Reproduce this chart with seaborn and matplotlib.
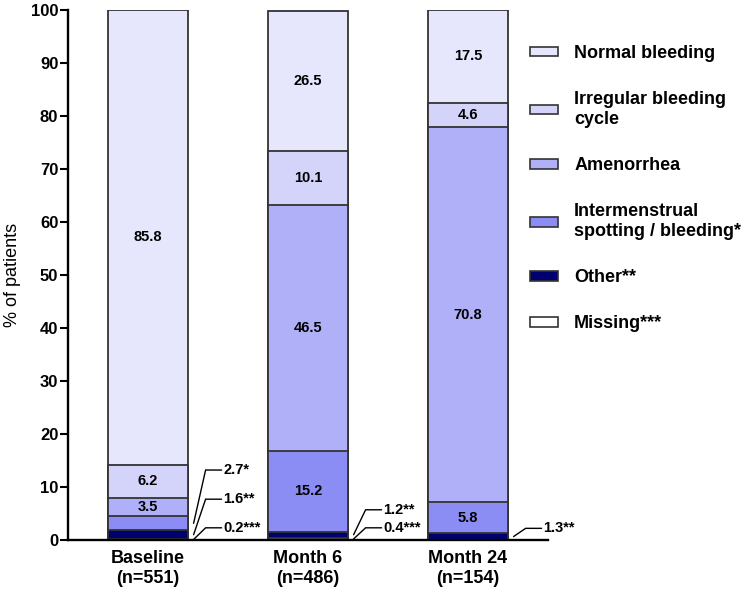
import numpy as np
import pandas as pd
import matplotlib
matplotlib.use("Agg")
import matplotlib.pyplot as plt
from matplotlib.patches import Patch
import seaborn as sns

# ---- data ----
timepoints = ["Baseline\n(n=551)", "Month 6\n(n=486)", "Month 24\n(n=154)"]
categories = ["Missing***", "Other**", "Intermenstrual\nspotting / bleeding*",
              "Amenorrhea", "Irregular bleeding\ncycle", "Normal bleeding"]
missing = [0.2, 0.4, 0.0]
other = [1.6, 1.2, 1.3]
intermenstrual = [2.7, 15.2, 5.8]
amenorrhea = [3.5, 46.5, 70.8]
irregular = [6.2, 10.1, 4.6]
normal = [85.8, 26.5, 17.5]
colors = ["#FFFFFF", "#00006E", "#8C8CF5", "#B0B0F8", "#D4D4FA", "#E6E6FC"]

# segments that get an inside label / outside leader label
inside_labels = {"Intermenstrual\nspotting / bleeding*": [False, True, True],
                 "Amenorrhea": [True, True, True],
                 "Irregular bleeding\ncycle": [True, True, True],
                 "Normal bleeding": [True, True, True]}
# (bar index, segment index, text, label y)
outside_labels = [(0, 2, "2.7*", 13.2), (0, 1, "1.6**", 7.7), (0, 0, "0.2***", 2.3),
                  (1, 1, "1.2**", 5.7), (1, 0, "0.4***", 2.3),
                  (2, 1, "1.3**", 2.2)]

series = [missing, other, intermenstrual, amenorrhea, irregular, normal]
vals = np.array(series)
cum = np.cumsum(vals, axis=0)

sns.set_theme(style="ticks")
plt.rcParams["font.family"] = ["Liberation Sans", "DejaVu Sans"]
plt.rcParams["text.color"] = "black"
plt.rcParams["axes.labelcolor"] = "black"
plt.rcParams["xtick.color"] = "black"
plt.rcParams["ytick.color"] = "black"

fig = plt.figure(figsize=(7.52, 5.98), dpi=100)
ax = fig.add_axes([68 / 752, 58 / 598, 480 / 752, 530 / 598])

# draw cumulative bars from top to bottom so they overlay as a stack
for k in range(len(categories) - 1, -1, -1):
    df = pd.DataFrame({"time": timepoints, "value": cum[k]})
    sns.barplot(data=df, x="time", y="value", order=timepoints, color=colors[k],
                saturation=1, width=0.5, edgecolor="#333333", linewidth=1.3,
                errorbar=None, ax=ax)

# inside labels
for k, cat in enumerate(categories):
    if cat in inside_labels:
        for i in range(len(timepoints)):
            if inside_labels[cat][i]:
                bottom = cum[k][i] - vals[k][i]
                ax.text(i, bottom + vals[k][i] / 2, f"{vals[k][i]:.1f}", ha="center",
                        va="center", fontsize=10.5, fontweight="bold", color="black")

# outside leader labels
for i, k, txt, ly in outside_labels:
    edge = i + 0.25
    sy = cum[k][i] - vals[k][i] / 2
    ax.plot([edge + 0.035, edge + 0.11, edge + 0.21], [sy, ly, ly], color="black",
            lw=1.0, clip_on=False, solid_joinstyle="miter")
    ax.text(edge + 0.22, ly, txt, ha="left", va="center", fontsize=10.5,
            fontweight="bold", color="black")

ax.set_xlim(-0.5, 2.5)
ax.set_ylim(0, 100)
ax.set_yticks(np.arange(0, 101, 10))
ax.set_xlabel("")
ax.set_ylabel("")
fig.text(13 / 752, 1 - 275 / 598, "% of patients", rotation=90, ha="center",
         va="center", fontsize=13, color="black")
sns.despine(ax=ax)
for s in ["left", "bottom"]:
    ax.spines[s].set_linewidth(1.7)
    ax.spines[s].set_color("black")
    ax.spines[s].set_zorder(10)
ax.tick_params(axis="y", length=6, width=1.5, pad=1, labelsize=12, colors="black")
ax.tick_params(axis="x", length=0, pad=7, labelsize=13, colors="black")
for lab in ax.get_xticklabels() + ax.get_yticklabels():
    lab.set_fontweight("bold")
for lab in ax.get_xticklabels():
    lab.set_linespacing(1.25)

# legend
handles = [Patch(facecolor=colors[k], edgecolor="#333333", linewidth=1.2, label=categories[k])
           for k in range(len(categories) - 1, -1, -1)]
leg = fig.legend(handles=handles, loc="upper left", bbox_to_anchor=(530 / 752, 1 - 45 / 598),
                 frameon=False, fontsize=13, handlelength=1.55, handleheight=0.45,
                 handletextpad=0.9, labelspacing=1.62, borderpad=0, borderaxespad=0)
for t in leg.get_texts():
    t.set_fontweight("bold")
    t.set_color("black")

fig.savefig("out.png", dpi=100)
